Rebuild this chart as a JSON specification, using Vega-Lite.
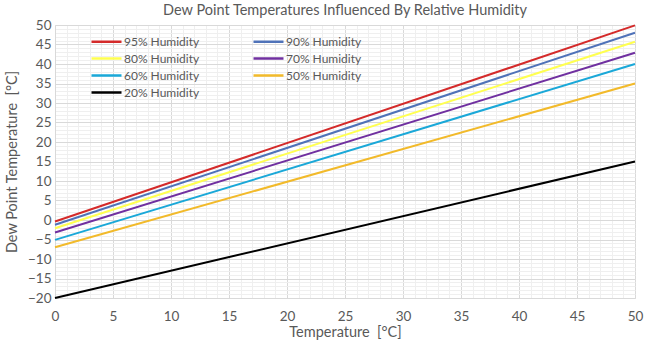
{
  "$schema": "https://vega.github.io/schema/vega-lite/v6.json",
  "autosize": "none",
  "width": 580,
  "height": 273,
  "padding": {"left": 55, "top": 25, "right": 12, "bottom": 51},
  "background": "white",
  "title": {
    "text": "Dew Point Temperatures Influenced By Relative Humidity",
    "fontSize": 14.5,
    "font": "Lato",
    "fontWeight": "normal",
    "color": "#595959",
    "anchor": "middle",
    "offset": 0
  },
  "config": {
    "view": {"stroke": null},
    "font": "Lato",
    "axis": {
      "labelFont": "Lato",
      "titleFont": "Lato",
      "labelColor": "#595959",
      "titleColor": "#595959",
      "labelFontSize": 13.5,
      "titleFontSize": 14.5,
      "titleFontWeight": "normal",
      "ticks": false,
      "domainColor": "#D9D9D9",
      "gridColor": "#D9D9D9"
    }
  },
  "data": {
    "values": [
      {"T": 0, "Td": -0.4, "RH": "95% Humidity"},
      {"T": 50, "Td": 49.9, "RH": "95% Humidity"},
      {"T": 0, "Td": -1.2, "RH": "90% Humidity"},
      {"T": 50, "Td": 48.0, "RH": "90% Humidity"},
      {"T": 0, "Td": -2.1, "RH": "80% Humidity"},
      {"T": 50, "Td": 45.7, "RH": "80% Humidity"},
      {"T": 0, "Td": -3.2, "RH": "70% Humidity"},
      {"T": 50, "Td": 42.9, "RH": "70% Humidity"},
      {"T": 0, "Td": -5.1, "RH": "60% Humidity"},
      {"T": 50, "Td": 40.0, "RH": "60% Humidity"},
      {"T": 0, "Td": -7.0, "RH": "50% Humidity"},
      {"T": 50, "Td": 35.0, "RH": "50% Humidity"},
      {"T": 0, "Td": -20.0, "RH": "20% Humidity"},
      {"T": 50, "Td": 15.0, "RH": "20% Humidity"}
    ]
  },
  "layer": [
    {
      "mark": {"type": "line", "opacity": 0},
      "encoding": {
        "x": {
          "field": "T", "type": "quantitative",
          "scale": {"domain": [0, 50], "nice": false},
          "axis": {
            "orient": "bottom", "title": null, "labels": false, "domain": false,
            "grid": true, "gridColor": "#EFEFEF",
            "values": [0,1,2,3,4,5,6,7,8,9,10,11,12,13,14,15,16,17,18,19,20,21,22,23,24,25,26,27,28,29,30,31,32,33,34,35,36,37,38,39,40,41,42,43,44,45,46,47,48,49,50]
          }
        },
        "y": {
          "field": "Td", "type": "quantitative",
          "scale": {"domain": [-20, 50], "nice": false},
          "axis": {
            "orient": "left", "title": null, "labels": false, "domain": false,
            "grid": true, "gridColor": "#EFEFEF",
            "values": [-20,-19,-18,-17,-16,-15,-14,-13,-12,-11,-10,-9,-8,-7,-6,-5,-4,-3,-2,-1,0,1,2,3,4,5,6,7,8,9,10,11,12,13,14,15,16,17,18,19,20,21,22,23,24,25,26,27,28,29,30,31,32,33,34,35,36,37,38,39,40,41,42,43,44,45,46,47,48,49,50]
          }
        },
        "detail": {"field": "RH"}
      }
    },
    {
      "mark": {"type": "line", "strokeWidth": 2},
      "encoding": {
        "x": {
          "field": "T", "type": "quantitative",
          "scale": {"domain": [0, 50], "nice": false},
          "axis": {
            "orient": "bottom", "title": "Temperature \u00a0[°C]",
            "values": [0,5,10,15,20,25,30,35,40,45,50],
            "grid": true, "labelPadding": 11, "titlePadding": 3,
            "labelFlush": false
          }
        },
        "y": {
          "field": "Td", "type": "quantitative",
          "scale": {"domain": [-20, 50], "nice": false},
          "axis": {
            "orient": "left", "title": "Dew Point Temperature \u00a0[°C]",
            "values": [-20,-15,-10,-5,0,5,10,15,20,25,30,35,40,45,50],
            "grid": true, "labelPadding": 4, "titlePadding": 8,
            "labelFlush": false
          }
        },
        "color": {
          "field": "RH", "type": "nominal",
          "scale": {
            "domain": ["95% Humidity", "90% Humidity", "80% Humidity", "70% Humidity", "60% Humidity", "50% Humidity", "20% Humidity"],
            "range": ["#D42A2A", "#4F72B8", "#FFFF50", "#7030A0", "#1AA8D8", "#F2BA2A", "#000000"]
          },
          "legend": {
            "title": null,
            "orient": "none",
            "direction": "horizontal",
            "legendX": 45,
            "legendY": 10,
            "columns": 2,
            "columnPadding": 48,
            "rowPadding": 4,
            "symbolType": "M-3,0H3",
            "symbolSize": 100,
            "symbolStrokeWidth": 2.5,
            "labelOffset": 11,
            "labelFontSize": 12,
            "labelColor": "#595959",
            "labelFont": "Lato"
          }
        }
      }
    }
  ],
  "resolve": {"axis": {"x": "independent", "y": "independent"}}
}
